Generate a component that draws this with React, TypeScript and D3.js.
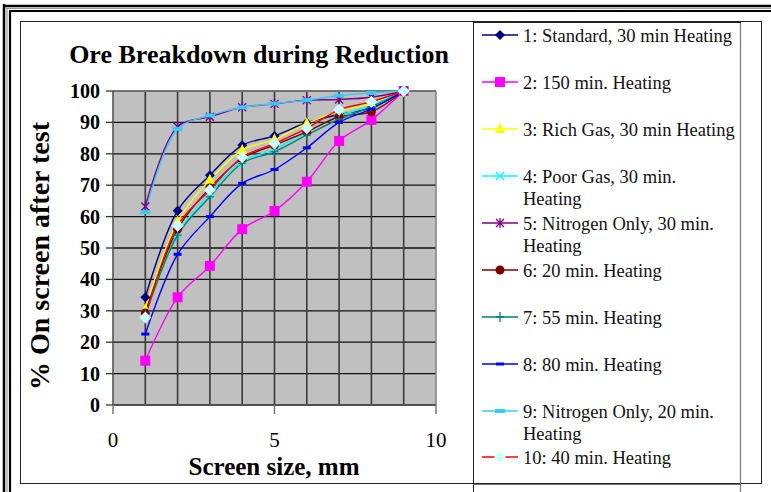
import React from 'react';
import * as d3 from 'd3';

const screenSizes = [1, 2, 3, 4, 5, 6, 7, 8, 9];
const s1Standard30 = [34.3, 61.9, 73.2, 82.7, 85.7, 89.9, 92.5, 94.6, 100];
const s2Heat150 = [14.1, 34.3, 44.3, 56.0, 61.8, 71.1, 84.1, 90.8, 100];
const s3RichGas30 = [30.5, 58.4, 71.7, 81.2, 84.6, 89.7, 93.5, 96.0, 100];
const s4PoorGas30 = [29.5, 54.5, 67.5, 77.5, 81.5, 87.0, 92.0, 95.5, 100];
const s5Nitrogen30 = [63.2, 88.6, 91.8, 94.8, 95.9, 97.1, 97.3, 98.0, 100];
const s6Heat20 = [29.3, 56.0, 69.1, 78.5, 82.8, 87.0, 91.8, 93.4, 100];
const s7Heat55 = [28.5, 54.1, 66.3, 77.0, 80.7, 86.0, 91.0, 95.0, 100];
const s8Heat80 = [22.6, 48.0, 60.0, 70.6, 75.0, 81.9, 90.0, 94.3, 100];
const s9Nitrogen20 = [61.4, 87.9, 92.2, 94.8, 96.0, 97.1, 98.5, 99.4, 100];
const s10Heat40 = [27.9, 57.1, 68.5, 78.9, 83.3, 88.1, 94.0, 96.6, 100];

const seriesLabels = [
  ['1: Standard, 30 min Heating'],
  ['2: 150 min. Heating'],
  ['3: Rich Gas, 30 min Heating'],
  ['4: Poor Gas, 30 min.', 'Heating'],
  ['5: Nitrogen Only, 30 min.', 'Heating'],
  ['6: 20 min. Heating'],
  ['7: 55 min. Heating'],
  ['8: 80 min. Heating'],
  ['9: Nitrogen Only, 20 min.', 'Heating'],
  ['10: 40 min. Heating'],
];
const yTicks = [0, 10, 20, 30, 40, 50, 60, 70, 80, 90, 100];
const xTicks = [0, 5, 10];
const title = 'Ore Breakdown during Reduction';
const xTitle = 'Screen size, mm';
const yTitle = '% On screen after test';

const seriesValues = [
  s1Standard30, s2Heat150, s3RichGas30, s4PoorGas30, s5Nitrogen30,
  s6Heat20, s7Heat55, s8Heat80, s9Nitrogen20, s10Heat40,
];
const styles = [
  { line: '#000080', marker: 'diamond', fill: '#000080' },
  { line: '#FF00FF', marker: 'square', fill: '#FF00FF' },
  { line: '#FFFF00', marker: 'triangle', fill: '#FFFF00' },
  { line: '#00FFFF', marker: 'x', fill: '#00FFFF' },
  { line: '#800080', marker: 'star', fill: '#800080' },
  { line: '#800000', marker: 'circle', fill: '#800000' },
  { line: '#008080', marker: 'plus', fill: '#008080' },
  { line: '#0000FF', marker: 'dash', fill: '#0000FF' },
  { line: '#33CCFF', marker: 'bigdash', fill: '#33CCFF' },
  { line: '#FF0000', marker: 'ldiamond', fill: '#CCFFFF' },
];

const FONT = '"Liberation Serif", "Times New Roman", serif';

function Marker({ type, color, x, y }: { type: string; color: string; x: number; y: number }) {
  const t = `translate(${x},${y})`;
  switch (type) {
    case 'diamond':
      return <path transform={t} d="M0,-5L5,0L0,5L-5,0Z" fill={color} />;
    case 'ldiamond':
      return <path transform={t} d="M0,-6L6,0L0,6L-6,0Z" fill={color} />;
    case 'square':
      return <rect x={x - 5} y={y - 5} width={10} height={10} fill={color} />;
    case 'triangle':
      return <path transform={t} d="M0,-6L5,4L-5,4Z" fill={color} />;
    case 'circle':
      return <circle cx={x} cy={y} r={4.5} fill={color} />;
    case 'x':
      return <path transform={t} d="M-4,-4L4,4M-4,4L4,-4" stroke={color} strokeWidth={1.3} fill="none" />;
    case 'star':
      return <path transform={t} d="M-4,-4L4,4M-4,4L4,-4M0,-5L0,5" stroke={color} strokeWidth={1.3} fill="none" />;
    case 'plus':
      return <path transform={t} d="M-4,0L4,0M0,-5L0,5" stroke={color} strokeWidth={1.3} fill="none" />;
    case 'dash':
      return <rect x={x - 4} y={y - 1.5} width={8} height={3} fill={color} />;
    case 'bigdash':
      return <rect x={x - 5} y={y - 2} width={10} height={4} fill={color} />;
    default:
      return null;
  }
}

export default function App() {
  const W = 771, H = 492;
  const x = d3.scaleLinear().domain([0, 10]).range([113, 436]);
  const y = d3.scaleLinear().domain([0, 100]).range([405, 91]);
  const line = d3
    .line<number>()
    .x((_, i) => x(screenSizes[i]))
    .y((d) => y(d))
    .curve(d3.curveCatmullRom.alpha(0.5));

  const legendX = 482;
  const legendRows = [35, 82, 129, 176, 223, 270, 317, 364, 411, 457];

  return (
    <svg width={W} height={H} style={{ position: 'absolute', left: 0, top: 0, background: '#fff' }}>
      {/* outer frame */}
      <line x1={4} y1={4} x2={4} y2={H} stroke="#000" strokeWidth={2.5} />
      <line x1={7} y1={8} x2={7} y2={H} stroke="#999" strokeWidth={1.2} />
      <line x1={10} y1={11} x2={10} y2={H} stroke="#000" strokeWidth={2.2} />
      <line x1={3} y1={6} x2={W} y2={6} stroke="#000" strokeWidth={2.5} />
      <line x1={6} y1={8.5} x2={W} y2={8.5} stroke="#999" strokeWidth={1.2} />
      <line x1={9} y1={11} x2={W} y2={11} stroke="#000" strokeWidth={2.2} />

      {/* chart area */}
      <rect x={20.5} y={21.5} width={741} height={462} fill="#fff" stroke="#222" strokeWidth={1} />
      {/* legend box */}
      <line x1={473.5} y1={22} x2={473.5} y2={H} stroke="#222" strokeWidth={1} />
      <line x1={740.5} y1={22} x2={740.5} y2={H} stroke="#777" strokeWidth={1.2} />
      <line x1={473} y1={22.5} x2={741} y2={22.5} stroke="#222" strokeWidth={1} />
      <line x1={473} y1={484.5} x2={741} y2={484.5} stroke="#777" strokeWidth={1.2} />

      {/* plot area */}
      <rect x={x(0)} y={y(100)} width={x(10) - x(0)} height={y(0) - y(100)} fill="#C0C0C0" />
      {yTicks.map((v) => (
        <line key={'h' + v} x1={x(0)} x2={x(10)} y1={y(v)} y2={y(v)} stroke="#111" strokeWidth={1.3} />
      ))}
      {screenSizes.map((v) => (
        <line key={'v' + v} x1={x(v)} x2={x(v)} y1={y(100)} y2={y(0)} stroke="#3a3a3a" strokeWidth={1.6} />
      ))}
      <line x1={x(10)} x2={x(10)} y1={y(100)} y2={y(0)} stroke="#808080" strokeWidth={1.5} />
      <line x1={x(0)} x2={x(10)} y1={y(100)} y2={y(100)} stroke="#808080" strokeWidth={1.5} />
      <line x1={x(0)} x2={x(0)} y1={y(100)} y2={y(0)} stroke="#555" strokeWidth={1.6} />
      <line x1={x(0)} x2={x(10)} y1={y(0)} y2={y(0)} stroke="#555" strokeWidth={1.6} />

      {/* y ticks */}
      {yTicks.map((v) => (
        <g key={'yt' + v}>
          <line x1={x(0) - 7} x2={x(0)} y1={y(v)} y2={y(v)} stroke="#333" strokeWidth={1.3} />
          <text x={100} y={y(v) + 7} textAnchor="end" fontFamily={FONT} fontWeight="bold" fontSize={20} fill="#000">
            {v}
          </text>
        </g>
      ))}
      {/* x ticks */}
      {xTicks.map((v) => (
        <g key={'xt' + v}>
          <line x1={x(v)} x2={x(v)} y1={y(0)} y2={y(0) + 9} stroke="#777" strokeWidth={1.5} />
          <text x={x(v)} y={447} textAnchor="middle" fontFamily={FONT} fontSize={21} fill="#000">
            {v}
          </text>
        </g>
      ))}

      {/* series */}
      {seriesValues.map((vals, si) => (
        <path key={'l' + si} d={line(vals) || ''} fill="none" stroke={styles[si].line} strokeWidth={1.4} />
      ))}
      {seriesValues.map((vals, si) => (
        <g key={'m' + si}>
          {vals.map((v, i) => (
            <Marker key={i} type={styles[si].marker} color={styles[si].fill} x={x(screenSizes[i])} y={y(v)} />
          ))}
        </g>
      ))}

      {/* titles */}
      <text x={259} y={63} textAnchor="middle" fontFamily={FONT} fontWeight="bold" fontSize={26} fill="#000">
        {title}
      </text>
      <text x={274} y={475} textAnchor="middle" fontFamily={FONT} fontWeight="bold" fontSize={25} fill="#000">
        {xTitle}
      </text>
      <text
        transform={`translate(49,256) rotate(-90)`}
        textAnchor="middle"
        fontFamily={FONT}
        fontWeight="bold"
        fontSize={28}
        fill="#000"
      >
        {yTitle}
      </text>

      {/* legend */}
      {seriesLabels.map((lines, i) => {
        const cy = legendRows[i];
        const st = styles[i];
        return (
          <g key={'lg' + i}>
            <line x1={legendX} x2={legendX + 36} y1={cy} y2={cy} stroke={st.line} strokeWidth={1.4} />
            <Marker type={st.marker} color={st.fill} x={legendX + 18} y={cy} />
            {lines.map((t, j) => (
              <text key={j} x={523} y={cy + 7 + j * 22} fontFamily={FONT} fontSize={18.5} fill="#111">
                {t}
              </text>
            ))}
          </g>
        );
      })}
    </svg>
  );
}
